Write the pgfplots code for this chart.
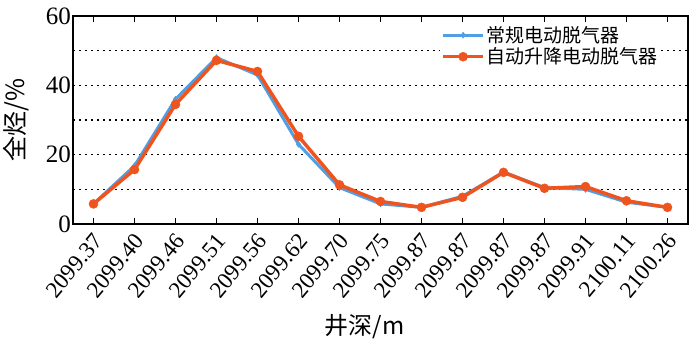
\documentclass[border=0pt]{standalone}
\usepackage{fontspec}
\setmainfont{Liberation Serif}
\newfontfamily\cjk{Noto Sans CJK SC}
\usepackage{pgfplots}
\pgfplotsset{compat=1.18}
\definecolor{cblue}{RGB}{80,158,228}
\definecolor{corange}{RGB}{240,84,30}
\begin{document}
\begin{tikzpicture}
\begin{axis}[
  scale only axis, width=615pt, height=208pt,
  xmin=-0.5, xmax=14.5, ymin=0, ymax=60,
  xtick={0,...,14},
  xticklabels={2099.37,2099.40,2099.46,2099.51,2099.56,2099.62,2099.70,2099.75,2099.87,2099.87,2099.87,2099.87,2099.91,2100.11,2100.26},
  x tick label style={xshift=5pt, yshift=-13pt, rotate=50, anchor=east, font=\fontsize{23}{23}\selectfont, inner sep=0pt},
  ytick={0,20,40,60},
  yticklabel style={font=\fontsize{25}{25}\selectfont, inner sep=2pt},
  /pgf/number format/assume math mode=true,
  extra y ticks={10,20,30,40,50}, extra y tick labels={},
  extra y tick style={grid=major, major grid style={black, line width=1.6pt, dash pattern=on 1.6pt off 4.4pt}, major tick length=0pt},
  tick align=inside,
  xtick style={black, line width=1pt}, major tick length=6pt,
  ytick style={draw=none},
  axis line style={line width=1.3pt},
  every axis y label/.style={at={(axis description cs:-0.093,0.5)}, rotate=90, anchor=center},
  every axis x label/.style={at={(axis description cs:0.474,0)}, anchor=center, yshift=-103pt},
  ylabel={\fontsize{25}{25}\selectfont\cjk 全烃/\%},
  xlabel={\fontsize{24}{24}\selectfont\cjk 井深/m},
  legend style={at={(axis description cs:0.597,0.965)}, anchor=north west, draw=none, fill=white, font=\fontsize{19}{22}\selectfont\cjk, inner sep=1pt, row sep=0pt, cells={anchor=west}},
  legend image code/.code={\draw[mark repeat=2,mark phase=2] plot coordinates {(0pt,0pt) (20pt,0pt) (40pt,0pt)};},
]
\addplot[cblue, line width=3pt, mark=diamond*, mark size=3pt, mark options={solid, fill=cblue, line width=0.5pt}] coordinates {
(0,5.8) (1,16.8) (2,36) (3,48) (4,43) (5,23) (6,10.5) (7,5.8) (8,4.8) (9,8) (10,15) (11,10.5) (12,10) (13,6.3) (14,4.8)};
\addlegendentry{常规电动脱气器}
\addplot[corange, line width=3.5pt, mark=*, mark size=4.5pt, mark options={solid, fill=corange, line width=0.5pt}] coordinates {
(0,5.8) (1,15.7) (2,34.5) (3,47.2) (4,44) (5,25.3) (6,11.3) (7,6.5) (8,4.8) (9,7.7) (10,14.9) (11,10.3) (12,10.8) (13,6.7) (14,4.8)};
\addlegendentry{自动升降电动脱气器}
\coordinate (sw) at (rel axis cs:0,0);
\coordinate (ne) at (rel axis cs:1,1);
\end{axis}
\pgfresetboundingbox
\path ([shift={(-73pt,-132pt)}]sw) rectangle ([shift={(12pt,16pt)}]ne);
\end{tikzpicture}
\end{document}
